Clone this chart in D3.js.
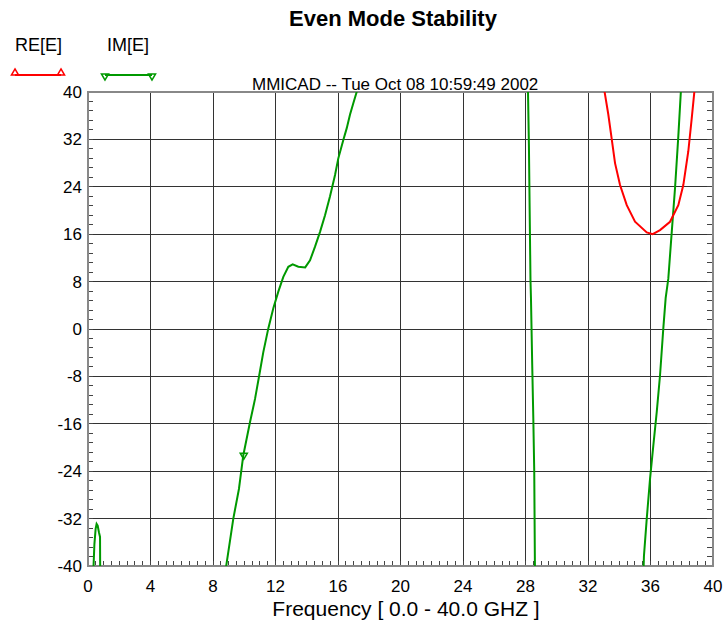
<!DOCTYPE html>
<html><head><meta charset="utf-8">
<script src="https://cdn.jsdelivr.net/npm/d3@7"></script>
<style>body{margin:0;background:#fff}svg{display:block}text{font-family:"Liberation Sans",Arial,sans-serif}</style>
</head><body><svg id="c" width="725" height="620"></svg>
<script>
const xTicks = [0,4,8,12,16,20,24,28,32,36,40];
const yTicks = [40,32,24,16,8,0,-8,-16,-24,-32,-40];
const reE = [[33.0,41],[33.02,40.7],[33.3,36.2],[33.51,32.2],[33.73,28],[34.05,24.3],[34.48,20.9],[35.01,18.1],[35.76,16.3],[36.14,16],[36.61,16.7],[37.25,18.1],[37.78,20.9],[38.1,24.3],[38.42,30],[38.64,35.6],[38.82,40.4],[38.85,41]];
const imE1 = [[0.34,-41],[0.41,-36.3],[0.49,-33.7],[0.55,-32.9],[0.62,-33.2],[0.70,-34.3],[0.77,-35.1],[0.78,-41]];
const imE2 = [[8.8,-40.8],[9.3,-32],[9.66,-27],[9.94,-21.3],[10.37,-15.7],[10.69,-11.8],[10.96,-7.8],[11.22,-3.9],[11.54,0.1],[11.86,3.5],[12.18,6.3],[12.5,8.8],[12.82,10.5],[13.1,10.9],[13.46,10.5],[13.9,10.4],[14.21,11.6],[14.53,13.9],[14.85,16.4],[15.17,19.2],[15.49,22.4],[15.81,26],[16.02,28.8],[16.34,31.9],[16.56,33.9],[16.77,36.2],[16.98,38.1],[17.24,40.4],[17.3,41]];
const imE3 = [[28.15,41],[28.16,40],[28.22,30.7],[28.26,21.4],[28.32,8.1],[28.35,5.2],[28.43,-6.1],[28.5,-15.1],[28.56,-24.1],[28.6,-39.3],[28.61,-41]];
const imE4 = [[35.55,-41],[35.58,-38.3],[35.76,-32],[35.97,-25.3],[36.18,-19.7],[36.4,-14],[36.61,-7.8],[36.82,0.1],[36.97,5.2],[37.14,8.5],[37.36,16.4],[37.57,23.8],[37.78,32.5],[37.95,40.4],[37.98,41]];
const imMarkers = [[9.97,-21.3]];

const svg = d3.select("#c");
const L=88, R=713, T=92, B=566;
const x = d3.scaleLinear().domain([0,40]).range([L,R]);
const y = d3.scaleLinear().domain([-40,40]).range([B,T]);

// title
svg.append("text").attr("x",393).attr("y",26).attr("text-anchor","middle")
  .attr("font-size",22).attr("font-weight","bold").text("Even Mode Stability");
svg.append("text").attr("x",252).attr("y",90).attr("font-size",17).text("MMICAD -- Tue Oct 08 10:59:49 2002");

// legend
const tri = d3.symbol().type(d3.symbolTriangle).size(22);
svg.append("text").attr("x",15).attr("y",51).attr("font-size",18).text("RE[E]");
svg.append("text").attr("x",107).attr("y",51).attr("font-size",18).text("IM[E]");
svg.append("line").attr("x1",15).attr("x2",61).attr("y1",75).attr("y2",75).attr("stroke","#ff0000").attr("stroke-width",2);
svg.append("line").attr("x1",105).attr("x2",152).attr("y1",75).attr("y2",75).attr("stroke","#009900").attr("stroke-width",2);
[15,61].forEach(px=>svg.append("path").attr("d",tri).attr("transform",`translate(${px},73)`).attr("fill","none").attr("stroke","#ff0000").attr("stroke-width",1.5));
[105,152].forEach(px=>svg.append("path").attr("d",tri).attr("transform",`translate(${px},76) rotate(180)`).attr("fill","none").attr("stroke","#009900").attr("stroke-width",1.5));

// grid
const g = svg.append("g");
g.selectAll(".gx").data(xTicks).join("line").attr("x1",d=>x(d)).attr("x2",d=>x(d)).attr("y1",T).attr("y2",B)
  .attr("stroke","#333").attr("stroke-width",1).attr("shape-rendering","crispEdges");
g.selectAll(".gy").data(yTicks).join("line").attr("x1",L).attr("x2",R).attr("y1",d=>y(d)).attr("y2",d=>y(d))
  .attr("stroke","#333").attr("stroke-width",1).attr("shape-rendering","crispEdges");

// minor ticks
const xMinor = d3.range(0,40.01,0.5);
g.selectAll(".mx").data(xMinor).join("line").attr("x1",d=>x(d)).attr("x2",d=>x(d)).attr("y1",B).attr("y2",B-5)
  .attr("stroke","#444").attr("shape-rendering","crispEdges");
const yMinor = d3.range(-40,40.01,1.6);
g.selectAll(".myl").data(yMinor).join("line").attr("x1",L).attr("x2",L+5).attr("y1",d=>y(d)).attr("y2",d=>y(d))
  .attr("stroke","#444").attr("shape-rendering","crispEdges");
g.selectAll(".myr").data(yMinor).join("line").attr("x1",R).attr("x2",R-6).attr("y1",d=>y(d)).attr("y2",d=>y(d))
  .attr("stroke","#444").attr("shape-rendering","crispEdges");

// border
svg.append("rect").attr("x",L).attr("y",T).attr("width",R-L).attr("height",B-T)
  .attr("fill","none").attr("stroke","#888").attr("stroke-width",2);

// tick labels
svg.selectAll(".yl").data(yTicks).join("text").attr("x",82).attr("y",d=>y(d)+6).attr("text-anchor","end")
  .attr("font-size",17).text(d=>d);
svg.selectAll(".xl").data(xTicks).join("text").attr("x",d=>x(d)).attr("y",592).attr("text-anchor","middle")
  .attr("font-size",17).text(d=>d);
svg.append("text").attr("x",406).attr("y",616).attr("text-anchor","middle").attr("font-size",21)
  .text("Frequency [ 0.0 - 40.0 GHZ ]");

// curves
svg.append("clipPath").attr("id","clip").append("rect").attr("x",L).attr("y",T).attr("width",R-L).attr("height",B-T);
const line = d3.line().x(d=>x(d[0])).y(d=>y(d[1]));
const cg = svg.append("g").attr("clip-path","url(#clip)");
[imE1,imE2,imE3,imE4].forEach(s=>cg.append("path").attr("d",line(s)).attr("fill","none").attr("stroke","#009900").attr("stroke-width",2));
cg.append("path").attr("d",line(reE)).attr("fill","none").attr("stroke","#ff0000").attr("stroke-width",2);
imMarkers.forEach(p=>cg.append("path").attr("d",tri).attr("transform",`translate(${x(p[0])},${y(p[1])}) rotate(180)`)
  .attr("fill","none").attr("stroke","#009900").attr("stroke-width",1.5));
</script></body></html>
